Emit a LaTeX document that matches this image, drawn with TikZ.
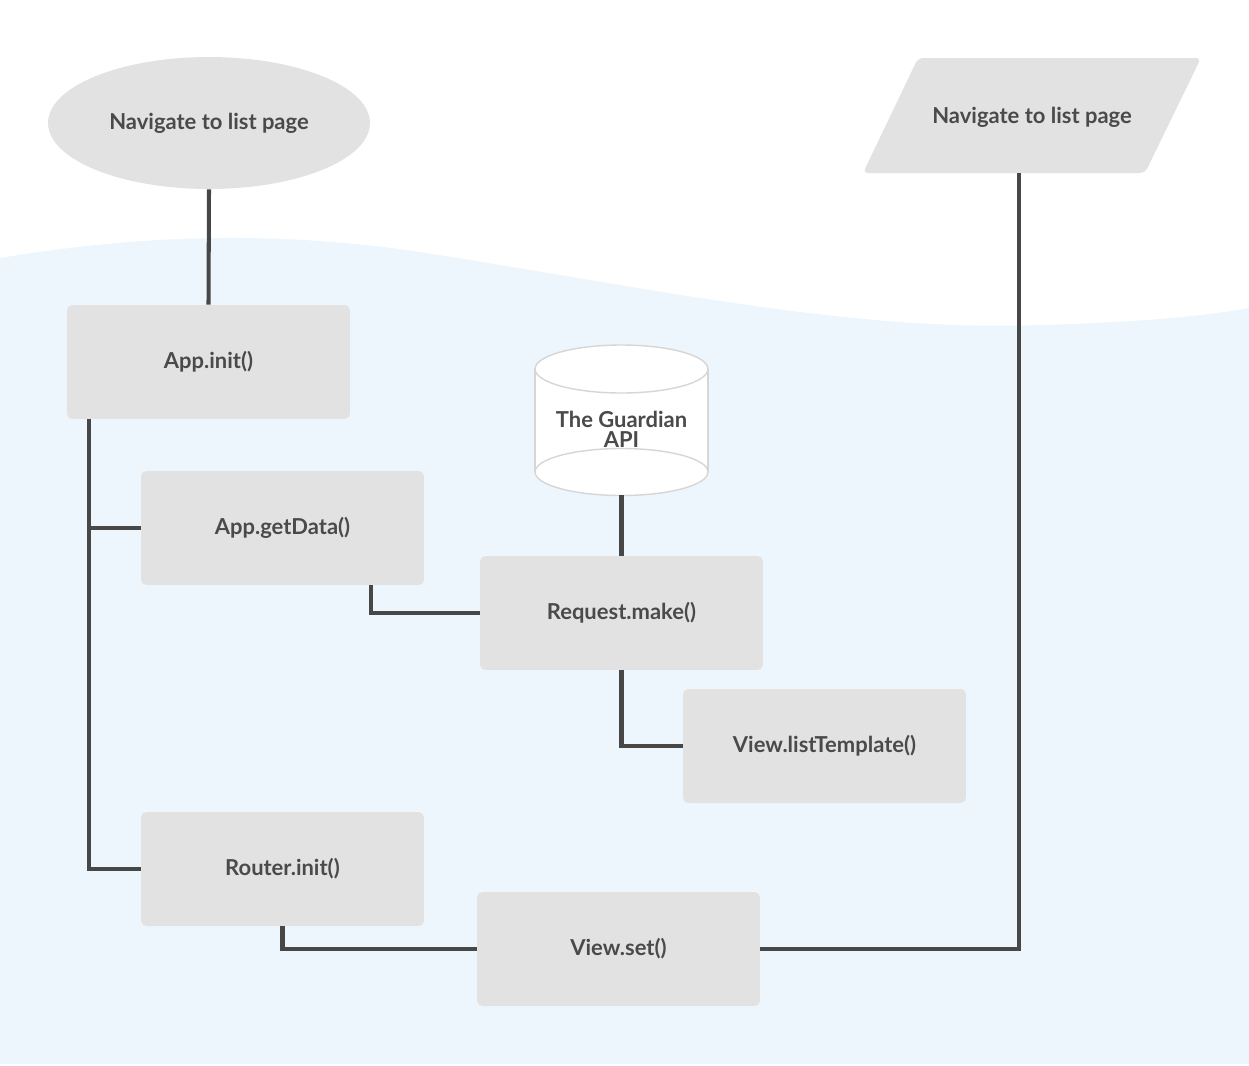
\documentclass[tikz,border=0pt]{standalone}
\usepackage{fontspec}
\setmainfont{Lato}
\usepackage{tikz}
\usetikzlibrary{shapes.geometric}
\definecolor{boxgrey}{HTML}{E2E2E2}
\definecolor{wiregrey}{HTML}{474747}
\definecolor{inkgrey}{HTML}{4A4A4A}
\definecolor{seablue}{HTML}{EEF6FD}
\definecolor{dbgrey}{HTML}{D6D6D6}
\newcommand{\boxwd}{5.66cm}
\newcommand{\boxht}{2.28cm}
\newcommand{\labelfont}{\bfseries\fontsize{12.5}{11.5}\selectfont}

\begin{document}
\begin{tikzpicture}[x=0.02cm, y=-0.02cm,
    box/.style={fill=boxgrey, rounded corners=3pt, minimum width=\boxwd, minimum height=\boxht, text=inkgrey, font=\labelfont},
    label/.style={text=inkgrey, font=\labelfont, align=center},
    wire/.style={draw=wiregrey, line width=2.3pt},
    dbline/.style={draw=dbgrey, line width=0.8pt, fill=white}]

  \useasboundingbox (0,0) rectangle (1249,1066);
  \fill[seablue] (0,258) .. controls (120,238) and (260,228) .. (420,252)
    .. controls (650,288) and (850,332) .. (1040,325)
    .. controls (1150,322) and (1210,315) .. (1249,308) -- (1249,1064) -- (0,1064) -- cycle;

  \node (navoval) at (209,123) [box, ellipse, minimum width=6.44cm, minimum height=2.64cm] {Navigate to list page};
  \fill[boxgrey, rounded corners=3pt] (918,58) -- (1201,58) -- (1145,173) -- (863,173) -- cycle;
  \node (navpara) at (1032,117) [label] {Navigate to list page};
  \coordinate (parafoot) at (1019,173);
  \node (appinit) at (208.5,362) [box] {App.init()};
  \node (getdata) at (282.5,528) [box] {App.getData()};
  \node (request) at (621.5,613) [box] {Request.make()};
  \node (listtpl) at (824.5,746) [box] {View.listTemplate()};
  \node (routerinit) at (282.5,869) [box] {Router.init()};
  \node (viewset) at (618.5,949) [box] {View.set()};

  \fill[white] (535,369) rectangle (708,472);
  \draw[dbline] (621.5,472) ellipse [x radius=1.73cm, y radius=0.47cm];
  \draw[dbline] (535,369) -- (535,472) (708,369) -- (708,472);
  \draw[dbline] (621.5,369) ellipse [x radius=1.73cm, y radius=0.48cm];
  \node (api) at (621.5,429) [label] {The Guardian\\API};
  \coordinate (apibase) at (621.5,495);

  \draw[wire] (navoval.south) -- (appinit.north);
  \draw[wire] (appinit.south west) ++(22,0) |- (routerinit.west);
  \draw[wire] (getdata.west) -- ++(-52,0);
  \draw[wire] (getdata.south) ++(88.5,0) |- (request.west);
  \draw[wire] (apibase) -- (request.north);
  \draw[wire] (request.south) |- (listtpl.west);
  \draw[wire] (routerinit.south) |- (viewset.west);
  \draw[wire] (parafoot) |- (viewset.east);

\end{tikzpicture}
\end{document}
